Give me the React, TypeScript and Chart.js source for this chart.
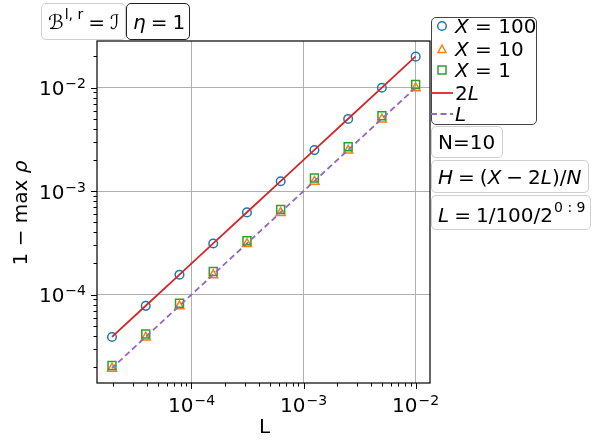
import React, { useEffect, useRef } from 'react';
import { Chart, registerables } from 'chart.js';

Chart.register(...registerables);

// ---------- data ----------
const L_VALUES = [0.01, 0.005, 0.0025, 0.00125, 0.000625, 0.0003125, 0.00015625, 7.8125e-5, 3.90625e-5, 1.953125e-5];
const X100_VALUES = [0.0199, 0.00996, 0.00498, 0.00249, 0.001245, 0.000623, 0.0003115, 0.0001558, 7.79e-5, 3.895e-5];
const X10_VALUES = [0.0099, 0.00494, 0.00247, 0.001235, 0.000617, 0.000309, 0.0001545, 7.72e-5, 3.86e-5, 1.93e-5];
const X1_VALUES = [0.0107, 0.00535, 0.00268, 0.00134, 0.000665, 0.000332, 0.000167, 8.25e-5, 4.17e-5, 2.07e-5];
const LINE_2L_VALUES = [0.02, 0.01, 0.005, 0.0025, 0.00125, 0.000625, 0.0003125, 0.00015625, 7.8125e-5, 3.90625e-5];
const LINE_L_VALUES = [0.01, 0.005, 0.0025, 0.00125, 0.000625, 0.0003125, 0.00015625, 7.8125e-5, 3.90625e-5, 1.953125e-5];

const SERIES_NAMES = ['X = 100', 'X = 10', 'X = 1', '2L', 'L'];
const COLORS = ['#1f77b4', '#ff7f0e', '#2ca02c', '#d62728', '#9467bd'];
const X_MAJOR_EXPONENTS = [-4, -3, -2];
const Y_MAJOR_EXPONENTS = [-4, -3, -2];
const X_RANGE = [1.435e-5, 1.343e-2];
const Y_RANGE = [1.4e-5, 2.82e-2];
const X_TITLE = 'L';

const FONT = '"DejaVu Sans"';

function pts(ys: number[]) {
  return L_VALUES.map((x, i) => ({ x, y: ys[i] }));
}

function minorValues(min: number, max: number) {
  const out: { v: number; major: boolean }[] = [];
  for (let e = -6; e <= 0; e++) {
    for (let m = 1; m <= 9; m++) {
      const v = m * Math.pow(10, e);
      if (v >= min && v <= max) out.push({ v, major: m === 1 });
    }
  }
  return out;
}

function drawPow(ctx: CanvasRenderingContext2D, exp: number, x: number, baseline: number, align: 'center' | 'right') {
  const base = '10';
  const sup = '\u2212' + Math.abs(exp);
  ctx.font = `20px ${FONT}`;
  const wb = ctx.measureText(base).width;
  ctx.font = `14px ${FONT}`;
  const ws = ctx.measureText(sup).width;
  const total = wb + ws + 1;
  const left = align === 'center' ? x - total / 2 : x - total;
  ctx.textAlign = 'left';
  ctx.textBaseline = 'alphabetic';
  ctx.fillStyle = '#000';
  ctx.font = `20px ${FONT}`;
  ctx.fillText(base, left, baseline);
  ctx.font = `14px ${FONT}`;
  ctx.fillText(sup, left + wb + 1, baseline - 7);
}

const axisPlugin = {
  id: 'mplAxes',
  afterDraw(chart: any) {
    const ctx: CanvasRenderingContext2D = chart.ctx;
    const { left, right, top, bottom } = chart.chartArea;
    const xs = chart.scales.x;
    const ys = chart.scales.y;
    ctx.save();
    ctx.strokeStyle = '#000';
    ctx.lineWidth = 1.2;
    ctx.strokeRect(left, top, right - left, bottom - top);
    ctx.lineWidth = 1;
    for (const t of minorValues(X_RANGE[0], X_RANGE[1])) {
      const px = Math.round(xs.getPixelForValue(t.v)) + 0.5;
      ctx.beginPath();
      ctx.moveTo(px, bottom);
      ctx.lineTo(px, bottom + (t.major ? 6 : 3.5));
      ctx.stroke();
    }
    for (const t of minorValues(Y_RANGE[0], Y_RANGE[1])) {
      const py = Math.round(ys.getPixelForValue(t.v)) + 0.5;
      ctx.beginPath();
      ctx.moveTo(left, py);
      ctx.lineTo(left - (t.major ? 6 : 3.5), py);
      ctx.stroke();
    }
    for (const e of X_MAJOR_EXPONENTS) {
      const px = xs.getPixelForValue(Math.pow(10, e));
      drawPow(ctx, e, px, bottom + 28.5, 'center');
    }
    for (const e of Y_MAJOR_EXPONENTS) {
      const py = ys.getPixelForValue(Math.pow(10, e));
      drawPow(ctx, e, left - 11, py + 7.7, 'right');
    }
    ctx.fillStyle = '#000';
    ctx.font = `20px ${FONT}`;
    ctx.textAlign = 'center';
    ctx.textBaseline = 'alphabetic';
    ctx.fillText(X_TITLE, (left + right) / 2 + 1, bottom + 50);
    ctx.save();
    ctx.translate(27, (top + bottom) / 2 + 1);
    ctx.rotate(-Math.PI / 2);
    const p1 = '1 \u2212 max ';
    const p2 = '\u03c1';
    ctx.font = `20px ${FONT}`;
    const w1 = ctx.measureText(p1).width;
    ctx.font = `italic 20px ${FONT}`;
    const w2 = ctx.measureText(p2).width;
    const start = -(w1 + w2) / 2;
    ctx.textAlign = 'left';
    ctx.font = `20px ${FONT}`;
    ctx.fillText(p1, start, 0);
    ctx.font = `italic 20px ${FONT}`;
    ctx.fillText(p2, start + w1, 0);
    ctx.restore();
    ctx.restore();
  },
};

const boxBase: React.CSSProperties = {
  position: 'absolute',
  boxSizing: 'border-box',
  background: 'rgba(255,255,255,0.85)',
  borderRadius: 5,
  display: 'flex',
  alignItems: 'center',
  whiteSpace: 'nowrap',
  fontFamily: FONT,
  fontSize: 20,
  color: '#000',
  lineHeight: '20px',
};

const I = (s: string) => <span style={{ fontStyle: 'italic' }}>{s}</span>;
const Sup = (s: string) => (
  <span style={{ fontSize: 14, position: 'relative', top: -8, marginLeft: 1 }}>{s}</span>
);
const Sp = (w: number) => <span style={{ display: 'inline-block', width: w }} />;

function Marker({ kind, color }: { kind: number; color: string }) {
  if (kind === 0)
    return (
      <svg width={24} height={22} style={{ position: 'absolute', left: 0, top: 0 }}>
        <circle cx={10} cy={11} r={4.3} fill="none" stroke={color} strokeWidth={1.5} />
      </svg>
    );
  if (kind === 1)
    return (
      <svg width={24} height={22} style={{ position: 'absolute', left: 0, top: 0 }}>
        <polygon points="10,7 14,14.5 6,14.5" fill="none" stroke={color} strokeWidth={1.5} />
      </svg>
    );
  if (kind === 2)
    return (
      <svg width={24} height={22} style={{ position: 'absolute', left: 0, top: 0 }}>
        <rect x={6} y={7} width={8} height={8} fill="none" stroke={color} strokeWidth={1.5} />
      </svg>
    );
  return (
    <svg width={26} height={22} style={{ position: 'absolute', left: -2, top: 0 }}>
      <line
        x1={1}
        y1={11}
        x2={23}
        y2={11}
        stroke={color}
        strokeWidth={1.8}
        strokeDasharray={kind === 4 ? '6 3.5' : undefined}
      />
    </svg>
  );
}

function legendLabel(name: string) {
  if (name.startsWith('X')) return <>{I('X')}{name.slice(1)}</>;
  if (name === '2L') return <>2{I('L')}</>;
  return I(name);
}

export default function App() {
  const ref = useRef<HTMLCanvasElement | null>(null);
  useEffect(() => {
    if (!ref.current) return;
    const chart = new Chart(ref.current, {
      type: 'scatter',
      data: {
        datasets: [
          {
            label: SERIES_NAMES[0],
            data: pts(X100_VALUES),
            showLine: false,
            pointStyle: 'circle',
            pointRadius: 4.3,
            pointBorderWidth: 1.5,
            borderColor: COLORS[0],
            backgroundColor: 'transparent',
            order: 4,
          },
          {
            label: SERIES_NAMES[1],
            data: pts(X10_VALUES),
            showLine: false,
            pointStyle: 'triangle',
            pointRadius: 5.2,
            pointBorderWidth: 1.5,
            borderColor: COLORS[1],
            backgroundColor: 'transparent',
            order: 3,
          },
          {
            label: SERIES_NAMES[2],
            data: pts(X1_VALUES),
            showLine: false,
            pointStyle: 'rect',
            pointRadius: 5.6,
            pointBorderWidth: 1.5,
            borderColor: COLORS[2],
            backgroundColor: 'transparent',
            order: 2,
          },
          {
            label: SERIES_NAMES[3],
            data: pts(LINE_2L_VALUES),
            showLine: true,
            pointRadius: 0,
            borderColor: COLORS[3],
            borderWidth: 1.8,
            backgroundColor: 'transparent',
            order: 1,
          },
          {
            label: SERIES_NAMES[4],
            data: pts(LINE_L_VALUES),
            showLine: true,
            pointRadius: 0,
            borderColor: COLORS[4],
            borderWidth: 1.8,
            borderDash: [6, 3.5],
            backgroundColor: 'transparent',
            order: 0,
          },
        ],
      },
      options: {
        responsive: false,
        animation: false,
        devicePixelRatio: 1,
        layout: { padding: { left: 0, right: 168, top: 41, bottom: 0 } },
        plugins: { legend: { display: false }, tooltip: { enabled: false } },
        scales: {
          x: {
            type: 'logarithmic',
            min: X_RANGE[0],
            max: X_RANGE[1],
            afterFit: (s: any) => {
              s.height = 63;
            },
            afterBuildTicks: (s: any) => {
              s.ticks = X_MAJOR_EXPONENTS.map((e) => ({ value: Math.pow(10, e) }));
            },
            ticks: { display: false },
            grid: { color: '#b0b0b0', lineWidth: 1, drawTicks: false },
            border: { display: false },
          },
          y: {
            type: 'logarithmic',
            min: Y_RANGE[0],
            max: Y_RANGE[1],
            afterFit: (s: any) => {
              s.width = 97;
            },
            afterBuildTicks: (s: any) => {
              s.ticks = Y_MAJOR_EXPONENTS.map((e) => ({ value: Math.pow(10, e) }));
            },
            ticks: { display: false },
            grid: { color: '#b0b0b0', lineWidth: 1, drawTicks: false },
            border: { display: false },
          },
        },
      } as any,
      plugins: [axisPlugin],
    });
    return () => chart.destroy();
  }, []);

  // row centres relative to legend box top: 8, 31, 52, 75, 96
  const rowTops = [-3, 20, 41, 64, 85];

  return (
    <div style={{ position: 'fixed', left: 0, top: 0, width: 598, height: 446, background: '#fff' }}>
      <canvas ref={ref} width={598} height={446} style={{ width: 598, height: 446, display: 'block' }} />
      <div style={{ ...boxBase, left: 41, top: 3, width: 85, height: 37, border: '1.2px solid #cfcfcf', paddingLeft: 6 }}>
        <span style={{ fontStyle: 'italic' }}>{'\u212C'}</span>
        {Sup('l, r')}
        {Sp(5)}=
        {Sp(5)}
        <span style={{ fontStyle: 'italic' }}>{'\u2110'}</span>
      </div>
      <div style={{ ...boxBase, left: 126, top: 3, width: 64, height: 37, border: '1.5px solid #222', paddingLeft: 6 }}>
        {I('\u03b7')}
        {Sp(5)}={Sp(5)}1
      </div>
      <div style={{ ...boxBase, left: 431, top: 17, width: 106, height: 108, border: '1.2px solid #444', display: 'block' }}>
        {SERIES_NAMES.map((name, i) => (
          <div key={name} style={{ position: 'absolute', left: 0, top: rowTops[i], height: 22, width: 104 }}>
            <Marker kind={i} color={COLORS[i]} />
            <div style={{ position: 'absolute', left: 23, top: 1, lineHeight: '20px' }}>{legendLabel(name)}</div>
          </div>
        ))}
      </div>
      <div style={{ ...boxBase, left: 431, top: 126, width: 72, height: 32, border: '1.2px solid #cfcfcf', paddingLeft: 6 }}>
        N=10
      </div>
      <div style={{ ...boxBase, left: 431, top: 160, width: 158, height: 33, border: '1.2px solid #cfcfcf', paddingLeft: 6 }}>
        {I('H')}
        {Sp(5)}={Sp(5)}(
        {I('X')}
        {Sp(5)}{'\u2212'}{Sp(5)}2
        {I('L')}
        )/
        {I('N')}
      </div>
      <div style={{ ...boxBase, left: 431, top: 195, width: 160, height: 35, border: '1.2px solid #cfcfcf', paddingLeft: 6, paddingTop: 4 }}>
        {I('L')}
        {Sp(5)}={Sp(5)}1/100/2
        {Sup('0 : 9')}
      </div>
    </div>
  );
}
